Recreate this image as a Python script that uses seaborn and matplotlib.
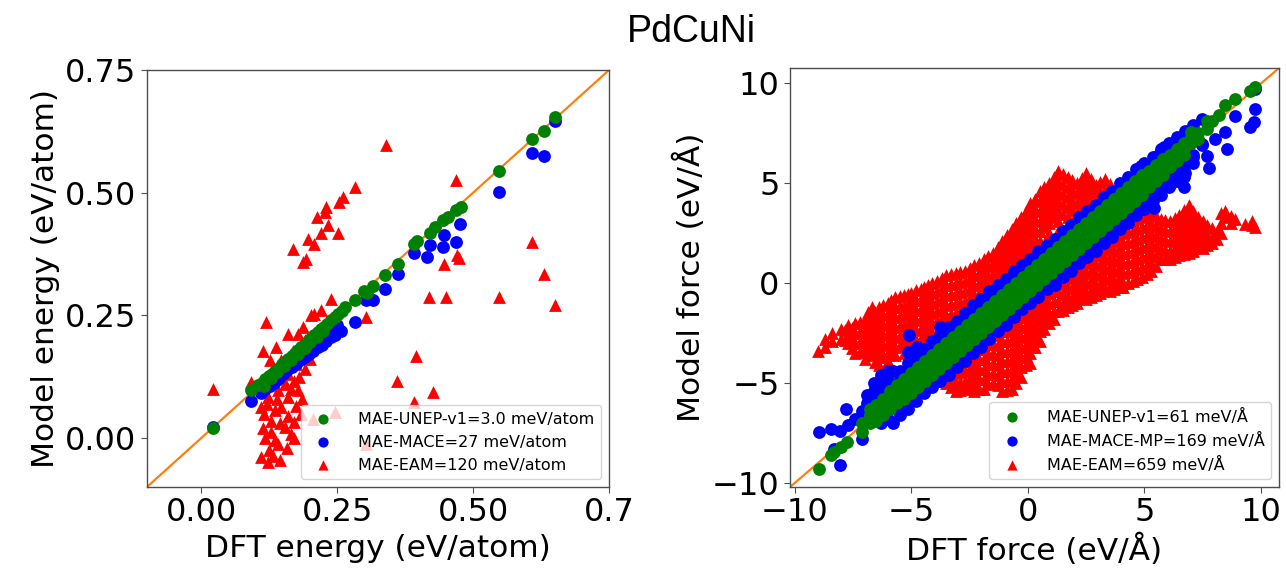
import matplotlib
matplotlib.use("Agg")
import matplotlib.pyplot as plt
import seaborn as sns

# ---------------- labels ----------------
title_text = "PdCuNi"
energy_labels = ["MAE-UNEP-v1=3.0 meV/atom", "MAE-MACE=27 meV/atom", "MAE-EAM=120 meV/atom"]
force_labels = ["MAE-UNEP-v1=61 meV/Å", "MAE-MACE-MP=169 meV/Å", "MAE-EAM=659 meV/Å"]
energy_ticks = [0.0, 0.25, 0.5, 0.75]
energy_xticklabels = ["0.00", "0.25", "0.50", "0.7"]
energy_yticklabels = ["0.00", "0.25", "0.50", "0.75"]
force_ticks = [-10, -5, 0, 5, 10]

# ---------------- energy data (eV/atom) ----------------
unep_e_dft = [0.021, 0.092, 0.105, 0.112, 0.118, 0.124, 0.130, 0.136, 0.142, 0.148, 0.154, 0.160,
              0.166, 0.172, 0.178, 0.184, 0.190, 0.196, 0.202, 0.208, 0.214, 0.220, 0.226, 0.232,
              0.238, 0.245, 0.252, 0.258, 0.264, 0.115, 0.128, 0.140, 0.152, 0.165, 0.178, 0.190,
              0.200, 0.212, 0.224, 0.282, 0.300, 0.304, 0.316, 0.337, 0.361, 0.392, 0.397, 0.420,
              0.429, 0.444, 0.453, 0.468, 0.478, 0.548, 0.609, 0.630, 0.651]
unep_e_model = [0.020, 0.098, 0.108, 0.112, 0.120, 0.126, 0.131, 0.137, 0.143, 0.150, 0.155, 0.161,
                0.168, 0.174, 0.179, 0.186, 0.191, 0.197, 0.203, 0.210, 0.215, 0.222, 0.227, 0.233,
                0.240, 0.246, 0.253, 0.259, 0.266, 0.105, 0.122, 0.135, 0.146, 0.158, 0.171, 0.183,
                0.195, 0.206, 0.218, 0.282, 0.300, 0.295, 0.309, 0.332, 0.355, 0.395, 0.402, 0.417,
                0.430, 0.444, 0.451, 0.464, 0.471, 0.544, 0.609, 0.626, 0.655]

mace_e_dft = [0.021, 0.092, 0.110, 0.118, 0.126, 0.134, 0.142, 0.150, 0.158, 0.166, 0.174, 0.182,
              0.190, 0.198, 0.206, 0.214, 0.222, 0.230, 0.238, 0.246, 0.256, 0.120, 0.140, 0.160,
              0.180, 0.200, 0.220, 0.235, 0.250, 0.282, 0.303, 0.315, 0.337, 0.361, 0.392, 0.416,
              0.420, 0.444, 0.447, 0.468, 0.475, 0.548, 0.609, 0.630, 0.651]
mace_e_model = [0.022, 0.076, 0.092, 0.099, 0.106, 0.113, 0.122, 0.130, 0.138, 0.144, 0.150, 0.158,
                0.164, 0.172, 0.178, 0.186, 0.190, 0.197, 0.205, 0.210, 0.219, 0.106, 0.126, 0.144,
                0.160, 0.178, 0.196, 0.214, 0.230, 0.236, 0.282, 0.282, 0.304, 0.335, 0.376, 0.369,
                0.393, 0.389, 0.413, 0.400, 0.437, 0.502, 0.580, 0.575, 0.646]

eam_e_dft = [0.339, 0.282, 0.260, 0.254, 0.230, 0.227, 0.213, 0.233, 0.251, 0.220, 0.196, 0.208,
             0.168, 0.193, 0.187, 0.239, 0.220, 0.202, 0.119, 0.303, 0.468, 0.609, 0.630, 0.651,
             0.548, 0.450, 0.419, 0.447, 0.471, 0.474, 0.395, 0.360, 0.427, 0.392, 0.303, 0.021,
             0.092, 0.110, 0.122, 0.132, 0.141, 0.153, 0.171, 0.165, 0.135, 0.116, 0.129, 0.147,
             0.159, 0.171, 0.178, 0.135, 0.110, 0.122, 0.141, 0.153, 0.113, 0.138, 0.159, 0.178,
             0.187, 0.208, 0.190, 0.168, 0.147, 0.126, 0.135, 0.150, 0.184, 0.205, 0.245,
             0.118, 0.128, 0.145, 0.160, 0.175, 0.185, 0.170, 0.158, 0.145, 0.125, 0.113, 0.120,
             0.140, 0.165, 0.180, 0.190, 0.200, 0.175, 0.160, 0.150]
eam_e_model = [0.597, 0.512, 0.491, 0.481, 0.471, 0.461, 0.451, 0.434, 0.417, 0.417, 0.406, 0.396,
               0.386, 0.365, 0.359, 0.284, 0.260, 0.250, 0.236, 0.246, 0.526, 0.400, 0.335, 0.270,
               0.287, 0.287, 0.287, 0.355, 0.372, 0.366, 0.168, 0.117, 0.093, 0.073, -0.012, 0.100,
               0.114, -0.039, -0.050, -0.036, -0.012, 0.022, 0.032, 0.008, -0.005, 0.049, 0.035, 0.063,
               0.083, 0.117, 0.097, 0.056, 0.063, 0.083, 0.097, 0.110, 0.178, 0.185, 0.212, 0.212,
               0.226, 0.253, 0.199, 0.178, 0.158, 0.158, 0.138, 0.141, 0.049, 0.039, 0.052,
               0.000, 0.012, 0.030, 0.045, 0.065, 0.080, 0.000, -0.020, -0.045, -0.025, 0.020, 0.070,
               0.080, 0.100, 0.125, 0.140, 0.160, 0.150, 0.130, 0.120]

# ---------------- force data (eV/Å): (DFT value, [model values]) ----------------
unep_f_cols = [
    (-8.95, [-9.3]), (-8.45, [-8.6]), (-8.3, [-8.45]), (-8.0, [-8.2]), (-7.75, [-7.95]),
    (-7.1, [-7.45, -7.0]), (-6.75, [-7.0, -6.6, -6.3]),
    (-6.5, [-6.1, -6.5, -6.9]), (-6.2, [-5.8, -6.2, -6.6]), (-5.9, [-5.4, -5.9, -6.3]),
    (-5.6, [-5.1, -5.6, -6.0]), (-5.3, [-4.8, -5.3, -5.8]), (-5.0, [-4.5, -5.0, -5.5]),
    (-4.7, [-4.2, -4.7, -5.2]), (-4.4, [-3.9, -4.4, -4.9]), (-4.1, [-3.6, -4.1, -4.6]),
    (-3.8, [-3.3, -3.8, -4.3]), (-3.5, [-3.0, -3.5, -4.0]), (-3.2, [-2.7, -3.2, -3.7]),
    (-2.9, [-2.4, -2.9, -3.4]), (-2.6, [-2.1, -2.6, -3.1]), (-2.3, [-1.8, -2.3, -2.8]),
    (-2.0, [-1.5, -2.0, -2.5]), (-1.7, [-1.2, -1.7, -2.2]), (-1.4, [-0.9, -1.4, -1.9]),
    (-1.1, [-0.6, -1.1, -1.6]), (-0.8, [-0.3, -0.8, -1.3]), (-0.5, [0.0, -0.5, -1.0]),
    (-0.2, [0.3, -0.2, -0.7]), (0.1, [0.6, 0.1, -0.4]), (0.4, [0.9, 0.4, -0.1]),
    (0.7, [1.2, 0.7, 0.2]), (1.0, [1.5, 1.0, 0.5]), (1.3, [1.8, 1.3, 0.8]),
    (1.6, [2.1, 1.6, 1.1]), (1.9, [2.4, 1.9, 1.4]), (2.2, [2.7, 2.2, 1.7]),
    (2.5, [3.0, 2.5, 2.0]), (2.8, [3.3, 2.8, 2.3]), (3.1, [3.6, 3.1, 2.6]),
    (3.4, [3.9, 3.4, 2.9]), (3.7, [4.2, 3.7, 3.2]), (4.0, [4.5, 4.0, 3.5]),
    (4.3, [4.8, 4.3, 3.8]), (4.6, [5.1, 4.6, 4.1]), (4.9, [5.4, 4.9, 4.4]),
    (5.2, [5.6, 5.2, 4.8]), (5.5, [5.9, 5.5, 5.1]), (5.8, [6.2, 5.8, 5.4]),
    (6.1, [6.4, 6.1, 5.8]), (6.4, [6.7, 6.4, 6.1]), (6.7, [7.0, 6.7, 6.4]),
    (7.0, [7.3, 7.0, 7.55]), (7.3, [7.5, 7.2]), (7.68, [8.14, 7.7]),
    (7.9, [8.1]), (8.2, [8.4]), (8.47, [8.9]), (8.9, [9.23]), (9.54, [9.64]), (9.75, [9.81]),
]

mace_f_cols = [
    (-8.95, [-7.45]), (-8.45, [-7.3]), (-8.05, [-7.4, -9.1]), (-7.7, [-7.1]), (-7.8, [-6.3]),
    (-8.3, [-8.3]), (-7.4, [-6.8]), (-7.1, [-6.4, -7.8]), (-6.9, [-6.0, -5.6]),
    (-6.6, [-5.4, -5.0, -5.8]), (-6.3, [-4.6, -5.1, -5.6, -7.0]), (-6.0, [-4.4, -4.9, -6.8]),
    (-5.8, [-4.4, -7.0]), (-5.1, [-2.6]), (-5.15, [-3.45]), (-4.75, [-3.2]),
    (-5.5, [-4.4, -4.8, -6.2, -6.6]), (-5.15, [-4.0, -4.5, -5.9, -6.3]),
    (-4.8, [-3.6, -4.1, -5.5, -5.9]), (-4.45, [-3.3, -3.7, -5.2, -5.5]),
    (-4.1, [-2.9, -3.4, -4.8, -5.2]), (-3.75, [-2.2, -2.6, -3.0, -4.5, -4.9]),
    (-3.4, [-2.2, -2.7, -4.1, -4.6]), (-3.05, [-1.9, -2.3, -3.8, -4.2]),
    (-2.7, [-1.5, -2.0, -3.4, -3.9]), (-2.35, [-1.1, -1.6, -3.1, -3.5]),
    (-2.0, [-0.8, -1.3, -2.7, -3.2]), (-1.65, [-0.4, -0.9, -2.4, -2.8]),
    (-1.3, [-0.1, -0.6, -2.0, -2.4]), (-0.95, [0.2, -0.2, -1.7, -2.1]),
    (-0.6, [0.6, 0.1, -1.3, -1.7]), (-0.25, [0.9, 0.5, -0.9, -1.3]),
    (0.1, [1.2, 0.8, -0.6, -1.0]), (0.45, [1.6, 1.2, -0.3, -0.7]),
    (0.8, [1.9, 1.5, 0.1, -0.3]), (1.15, [2.2, 1.8, 0.4, -0.1]),
    (1.5, [2.6, 2.2, 0.8, 0.3]), (1.85, [2.9, 2.5, 1.1, 0.6]),
    (2.2, [3.3, 2.9, 1.4, 1.0]), (2.55, [3.6, 3.2, 1.8, 1.3]),
    (2.9, [3.9, 3.6, 2.1, 1.6]), (3.25, [4.3, 3.9, 2.5, 2.0]),
    (3.6, [4.6, 4.3, 2.8, 2.3]), (3.95, [5.0, 4.6, 3.2, 2.7]),
    (4.3, [5.3, 4.9, 3.5, 3.0]), (4.65, [5.7, 5.3, 3.9, 3.4]),
    (5.0, [6.0, 5.6, 4.2, 3.7]), (5.35, [6.3, 6.0, 4.6, 4.1]),
    (5.7, [6.7, 6.3, 4.9, 4.4]), (6.05, [7.0, 6.7, 5.3, 4.8]),
    (6.4, [7.3, 7.0, 5.6, 5.1]), (6.75, [7.6, 7.3, 6.0, 5.5]),
    (7.1, [7.9, 6.4, 6.0, 6.3]), (7.45, [8.2, 6.9, 6.95]),
    (4.83, [5.88]), (5.54, [6.38]), (5.82, [6.8]), (6.68, [7.3, 4.79, 5.3, 5.8]),
    (6.1, [4.9]), (6.3, [5.2]), (6.5, [5.6]), (5.4, [3.78]),
    (7.68, [6.38]), (7.75, [5.79]), (8.04, [7.22]), (8.47, [7.55]), (8.54, [6.71]),
    (8.9, [8.39]), (9.54, [7.8]), (9.68, [8.05]), (9.75, [8.72, 9.7]),
]

eam_f_cols = [
    (-9.0, [-3.4]), (-8.7, [-2.8, -3.2]), (-8.4, [-2.5, -2.9]), (-8.0, [-2.3, -2.8]),
    (-7.7, [-2.1, -2.6, -3.0]), (-7.4, [-2.0, -2.5, -3.0, -3.5]),
    (-7.0, [-1.8, -2.3, -2.8, -3.3, -3.8]), (-6.7, [-1.2, -1.6, -2.1, -2.6, -3.1, -3.6]),
    (-6.4, [-1.2, -1.7, -2.2, -2.7, -3.2, -3.7, -4.1]), (-6.0, [-1.0, -1.5, -2.0, -2.5, -3.0, -3.5, -3.9]),
    (-5.7, [-0.7, -1.2, -1.7, -2.2, -2.7, -3.2, -3.6]), (-5.3, [-0.6, -1.1, -1.6, -2.1, -2.6, -3.0, -3.5]),
    (-5.0, [-0.5, -1.0, -1.5, -2.0, -2.5, -3.0, -3.5]), (-4.6, [-0.3, -0.8, -1.3, -1.8, -2.3, -2.8, -3.3]),
    (-4.3, [-0.1, -0.6, -1.1, -1.6, -2.1, -2.6, -3.1, -4.7]),
    (-3.9, [0.1, -0.4, -0.9, -1.4, -1.9, -2.4, -2.9, -3.4, -4.3, -4.8]),
    (-3.5, [0.4, -0.1, -0.6, -1.1, -1.6, -2.1, -2.6, -3.1, -3.6, -4.1, -4.6, -5.0]),
    (-3.1, [0.5, 0.0, -0.5, -1.0, -1.5, -2.0, -2.5, -3.0, -3.5, -4.0, -4.5, -5.0, -5.4]),
    (-2.7, [0.6, 0.1, -0.4, -0.9, -1.4, -1.9, -2.4, -2.9, -3.4, -3.9, -4.4, -4.9, -5.3]),
    (-2.3, [0.9, 0.4, -0.1, -0.6, -1.1, -1.6, -2.1, -2.6, -3.1, -3.6, -4.1, -4.6, -5.1, -5.4]),
    (-1.9, [1.2, 0.7, 0.2, -0.3, -0.8, -1.3, -1.8, -2.3, -2.8, -3.3, -3.8, -4.3, -4.8, -5.3]),
    (-1.5, [1.5, 1.0, 0.5, 0.0, -0.5, -1.0, -1.5, -2.0, -2.5, -3.0, -3.5, -4.0, -4.5, -5.0]),
    (-1.1, [2.1, 1.6, 1.1, 0.6, 0.1, -0.4, -0.9, -1.4, -1.9, -2.4, -2.9, -3.4, -3.9, -4.4, -4.9, -5.4]),
    (-0.7, [2.7, 2.2, 1.7, 1.2, 0.7, 0.2, -0.3, -0.8, -1.3, -1.8, -2.3, -2.8, -3.3, -3.8, -4.3, -4.8, -5.3]),
    (-0.3, [3.3, 2.8, 2.3, 1.8, 1.3, 0.8, 0.3, -0.2, -0.7, -1.2, -1.7, -2.2, -2.7, -3.2, -3.7, -4.2, -4.7]),
    (0.1, [4.0, 3.5, 3.0, 2.5, 2.0, 1.5, 1.0, 0.5, 0.0, -0.5, -1.0, -1.5, -2.0, -2.5, -3.0, -3.5, -4.0]),
    (0.5, [4.6, 4.1, 3.6, 3.1, 2.6, 2.1, 1.6, 1.1, 0.6, 0.1, -0.4, -0.9, -1.4, -1.9, -2.4, -2.9]),
    (0.9, [5.0, 4.5, 4.0, 3.5, 3.0, 2.5, 2.0, 1.5, 1.0, 0.5, 0.0, -0.5, -1.0, -1.5, -2.0]),
    (1.3, [5.6, 5.1, 4.6, 4.1, 3.6, 3.1, 2.6, 2.1, 1.6, 1.1, 0.6, 0.1, -0.4, -0.9, -1.4]),
    (1.7, [5.3, 4.8, 4.3, 3.8, 3.3, 2.8, 2.3, 1.8, 1.3, 0.8, 0.3, -0.2, -0.7, -1.2]),
    (2.1, [5.0, 4.5, 4.0, 3.5, 3.0, 2.5, 2.0, 1.5, 1.0, 0.5, 0.0, -0.5, -1.0]),
    (2.5, [5.5, 5.0, 4.5, 4.0, 3.5, 3.0, 2.5, 2.0, 1.5, 1.0, 0.5, 0.0, -0.5, -0.8]),
    (2.9, [4.9, 4.4, 3.9, 3.4, 2.9, 2.4, 1.9, 1.4, 0.9, 0.4, -0.1, -0.6]),
    (3.3, [5.2, 4.7, 4.2, 3.7, 3.2, 2.7, 2.2, 1.7, 1.2, 0.7, 0.2, -0.3]),
    (3.7, [2.6, 2.1, 1.6, 1.1, 0.6, 0.1, -0.3]),
    (4.1, [3.0, 2.5, 2.0, 1.5, 1.0, 0.5, 0.0, -0.2]),
    (4.5, [3.1, 2.6, 2.1, 1.6, 1.1, 0.6, 0.1]),
    (4.9, [3.3, 2.8, 2.3, 1.8, 1.3, 0.8, 0.3]),
    (5.3, [3.5, 3.0, 2.5, 2.0, 1.5, 1.0, 0.6]),
    (5.7, [3.2, 2.7, 2.2, 1.7, 1.2]),
    (6.1, [3.1, 2.6, 2.1, 1.6, 1.2]),
    (6.5, [3.4, 2.9, 2.4, 1.9, 1.4]),
    (6.9, [3.9, 3.4, 2.9, 2.4, 1.9, 1.5]),
    (7.3, [3.3, 2.8, 2.3, 1.8]),
    (7.7, [2.9, 2.4, 1.9]),
    (8.1, [2.6, 2.2]),
    (8.46, [3.6, 3.3]),
    (8.9, [3.2]),
    (9.6, [3.1, 2.9]),
    (9.75, [2.8]),
    # points lying between the columns above
    (-7.85, [-2.35, -2.85]), (-7.55, [-2.25, -2.75, -3.25]),
    (-7.2, [-1.95, -2.45, -2.95, -3.45]), (-6.85, [-1.45, -1.95, -2.45, -2.95, -3.45]),
    (-6.55, [-1.45, -1.95, -2.45, -2.95, -3.45, -3.95]), (-6.2, [-1.1, -1.6, -2.1, -2.6, -3.1, -3.6]),
    (-5.85, [-0.85, -1.35, -1.85, -2.35, -2.85, -3.35]), (-5.5, [-0.65, -1.15, -1.65, -2.15, -2.65, -3.15]),
    (-5.15, [-0.55, -1.05, -1.55, -2.05, -2.55, -3.05, -3.45]),
    (-4.8, [-0.35, -0.85, -1.35, -1.85, -2.35, -2.85, -3.35]),
    (-4.45, [-0.2, -0.7, -1.2, -1.7, -2.2, -2.7, -3.2]),
    (-4.1, [0.0, -0.5, -1.0, -1.5, -2.0, -2.5, -4.5]),
    (-3.7, [0.25, -0.25, -0.75, -1.25, -1.75, -2.25, -4.4, -4.9]),
    (-3.3, [0.45, -0.05, -0.55, -1.05, -1.55, -2.05, -4.25, -4.75, -5.2]),
    (-2.9, [0.55, 0.05, -0.45, -0.95, -1.45, -1.95, -3.95, -4.45, -4.95, -5.35]),
    (-2.5, [0.75, 0.25, -0.25, -0.75, -1.25, -3.75, -4.25, -4.75, -5.25]),
    (-2.1, [1.0, 0.5, 0.0, -0.5, -1.0, -3.3, -3.8, -4.3, -4.8, -5.3]),
    (-1.7, [1.35, 0.85, 0.35, -0.15, -0.65, -3.05, -3.55, -4.05, -4.55, -5.05]),
    (-1.3, [1.8, 1.3, 0.8, 0.3, -0.2, -2.6, -3.1, -3.6, -4.1, -4.6, -5.1]),
    (-0.9, [2.4, 1.9, 1.4, 0.9, 0.4, -2.4, -2.9, -3.4, -3.9, -4.4, -4.9, -5.35]),
    (-0.5, [3.0, 2.5, 2.0, 1.5, 1.0, -2.0, -2.5, -3.0, -3.5, -4.0, -4.5, -5.0]),
    (-0.1, [3.6, 3.1, 2.6, 2.1, 1.6, -1.6, -2.1, -2.6, -3.1, -3.6, -4.1]),
    (0.3, [4.2, 3.7, 3.2, 2.7, 2.2, -1.2, -1.7, -2.2, -2.7, -3.2]),
    (0.7, [4.8, 4.3, 3.8, 3.3, 2.8, -0.8, -1.3, -1.8, -2.3]),
    (1.1, [5.3, 4.8, 4.3, 3.8, 3.3, -0.4, -0.9, -1.4, -1.8]),
    (1.5, [5.45, 4.95, 4.45, 3.95, 3.45, -0.05, -0.55, -1.05, -1.35]),
    (1.9, [5.15, 4.65, 4.15, 3.65, 0.25, -0.25, -0.75, -1.1]),
    (2.3, [5.25, 4.75, 4.25, 3.75, 0.75, 0.25, -0.25, -0.75]),
    (2.7, [5.2, 4.7, 4.2, 1.15, 0.65, 0.15, -0.35, -0.7]),
    (3.1, [5.05, 4.55, 1.45, 0.95, 0.45, -0.05, -0.5]),
    (3.5, [4.95, 1.85, 1.35, 0.85, 0.35, -0.15, -0.4]),
    (3.9, [2.75, 2.25, 1.75, 1.25, 0.75, 0.25, -0.2]),
    (4.3, [3.05, 2.55, 2.05, 1.55, 1.05, 0.55, 0.0]),
    (4.7, [3.2, 2.7, 2.2, 1.7, 1.2, 0.7, 0.2]),
    (5.1, [3.4, 2.9, 2.4, 1.9, 1.4, 0.9, 0.45]),
    (5.5, [3.35, 2.85, 2.35, 1.85, 1.35, 0.85]),
    (5.9, [3.15, 2.65, 2.15, 1.65, 1.2]),
    (6.3, [3.25, 2.75, 2.25, 1.75, 1.3]),
    (6.7, [3.65, 3.15, 2.65, 2.15, 1.65, 1.45]),
    (7.1, [3.6, 3.1, 2.6, 2.1, 1.6]),
    (7.5, [3.1, 2.6, 2.1, 1.75]),
    (7.9, [2.75, 2.25, 2.0]),
    (8.3, [3.5, 3.0, 2.5]),
    (8.7, [3.35, 3.0]),
    (9.3, [2.95]),
]


def flatten(cols):
    xs, ys = [], []
    for x, yl in cols:
        xs += [x] * len(yl)
        ys += list(yl)
    return xs, ys


unep_f_dft, unep_f_model = flatten(unep_f_cols)
mace_f_dft, mace_f_model = flatten(mace_f_cols)
eam_f_dft, eam_f_model = flatten(eam_f_cols)

# ---------------- style ----------------
sns.set_style("ticks")
plt.rcParams.update({
    "font.family": ["DejaVu Sans"],
    "text.color": "black",
    "axes.labelcolor": "black",
    "axes.edgecolor": "0.3",
    "axes.linewidth": 1.0,
    "xtick.color": "0.3",
    "ytick.color": "0.3",
    "xtick.labelcolor": "black",
    "ytick.labelcolor": "black",
    "xtick.major.size": 4,
    "ytick.major.size": 4,
})

fig = plt.figure(figsize=(12.86, 5.72), dpi=100)
ax1 = fig.add_axes([0.1143, 0.1486, 0.3593, 0.729])
ax2 = fig.add_axes([0.6143, 0.1486, 0.3803, 0.7325])

MS = 85


def panel(ax, eam, mace, unep, labels, lims):
    ax.plot(lims, lims, color="#ff7f0e", lw=1.6, zorder=1)
    sns.scatterplot(x=eam[0], y=eam[1], color="red", marker="^", s=MS, linewidth=0,
                    label=labels[2], ax=ax, zorder=2)
    sns.scatterplot(x=mace[0], y=mace[1], color="blue", marker="o", s=MS, linewidth=0,
                    label=labels[1], ax=ax, zorder=3)
    sns.scatterplot(x=unep[0], y=unep[1], color="green", marker="o", s=MS, linewidth=0,
                    label=labels[0], ax=ax, zorder=4)
    ax.set_xlim(lims)
    ax.set_ylim(lims)
    h, l = ax.get_legend_handles_labels()
    order = [l.index(labels[0]), l.index(labels[1]), l.index(labels[2])]
    ax.legend([h[i] for i in order], [l[i] for i in order], loc="lower right",
              fontsize=11.5, frameon=True, framealpha=0.8, edgecolor="0.8",
              handletextpad=1.2, borderpad=0.4, labelspacing=0.5, markerscale=0.8)
    ax.tick_params(labelsize=23)


panel(ax1, (eam_e_dft, eam_e_model), (mace_e_dft, mace_e_model), (unep_e_dft, unep_e_model),
      energy_labels, (-0.1, 0.75))
ax1.set_xticks(energy_ticks)
ax1.set_xticklabels(energy_xticklabels)
ax1.set_yticks(energy_ticks)
ax1.set_yticklabels(energy_yticklabels)
ax1.set_xlabel("DFT energy (eV/atom)", fontsize=22.5)
ax1.set_ylabel("Model energy (eV/atom)", fontsize=22.5)

panel(ax2, (eam_f_dft, eam_f_model), (mace_f_dft, mace_f_model), (unep_f_dft, unep_f_model),
      force_labels, (-10.2, 10.77))
ax2.set_xticks(force_ticks)
ax2.set_yticks(force_ticks)
ax2.set_xlabel("DFT force (eV/Å)", fontsize=22.5)
ax2.set_ylabel("Model force (eV/Å)", fontsize=22.5)

fig.text(0.538, 0.944, title_text, ha="center", va="center", fontsize=27,
         family=["Liberation Sans", "DejaVu Sans"])

fig.savefig("out.png", dpi=100)
